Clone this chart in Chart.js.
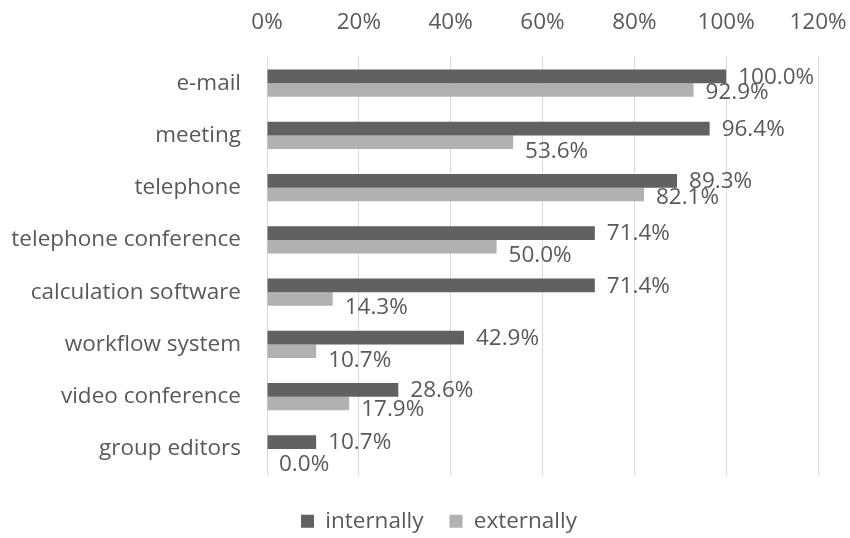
<!DOCTYPE html>
<html>
<head>
<meta charset="utf-8">
<script src="https://cdn.jsdelivr.net/npm/chart.js@4/dist/chart.umd.min.js"></script>
<style>
html,body{margin:0;padding:0;background:#fff;}
#wrap{width:850px;height:538px;position:relative;}
</style>
</head>
<body>
<div id="wrap"><canvas id="c" width="850" height="538"></canvas></div>
<script>
const categories = ["e-mail","meeting","telephone","telephone conference","calculation software","workflow system","video conference","group editors"];
const internally = [1.000,0.964,0.893,0.714,0.714,0.429,0.286,0.107];
const externally = [0.929,0.536,0.821,0.500,0.143,0.107,0.179,0.000];
const seriesNames = ["internally","externally"];
const xTicks = [0,0.2,0.4,0.6,0.8,1.0,1.2];

const TEXT = '#595959';
const FONT = '"Open Sans", sans-serif';
const FS = 22.5;

const labelPlugin = {
  id: 'barLabels',
  afterDatasetsDraw(chart) {
    const ctx = chart.ctx;
    ctx.save();
    ctx.font = FS + 'px ' + FONT;
    ctx.fillStyle = TEXT;
    ctx.textAlign = 'left';
    ctx.textBaseline = 'middle';
    const m0 = chart.getDatasetMeta(0), m1 = chart.getDatasetMeta(1);
    m0.data.forEach((bar, i) => {
      const v = chart.data.datasets[0].data[i];
      ctx.fillText((v*100).toFixed(1) + '%', bar.x + 12, bar.y + 1);
    });
    m1.data.forEach((bar, i) => {
      const v = chart.data.datasets[1].data[i];
      const t = (v*100).toFixed(1) + '%';
      const other = m0.data[i];
      const w = ctx.measureText(t).width;
      const overlap = Math.max(0, (bar.x + 12 + w) - (other.x + 12));
      const dy = Math.max(2, 9 - 0.2 * overlap);
      ctx.fillText(t, bar.x + 12, bar.y + dy);
    });
    ctx.restore();
  }
};

const chart = new Chart(document.getElementById('c'), {
  type: 'bar',
  data: {
    labels: categories,
    datasets: [
      { label: seriesNames[0], data: internally, backgroundColor: '#616163', borderWidth: 0 },
      { label: seriesNames[1], data: externally, backgroundColor: '#b1b1b3', borderWidth: 0 }
    ]
  },
  options: {
    indexAxis: 'y',
    responsive: false,
    animation: false,
    devicePixelRatio: 1,
    layout: { padding: { top: 0, right: 0, left: 10, bottom: 0 } },
    datasets: { bar: { categoryPercentage: 0.52, barPercentage: 1.0 } },
    scales: {
      x: {
        position: 'top',
        min: 0, max: 1.2,
        afterBuildTicks(axis) { axis.ticks = xTicks.map(v => ({ value: v })); },
        afterFit(scale) { scale.height = 57; scale.paddingLeft = 0; scale.paddingRight = 32; },
        ticks: {
          color: TEXT,
          font: { family: FONT, size: FS },
          padding: 20.5,
          maxRotation: 0,
          callback: v => Math.round(v*100) + '%'
        },
        grid: { color: '#d9d9d9', lineWidth: 1, drawTicks: false },
        border: { display: false }
      },
      y: {
        afterFit(scale) { scale.width = 257; scale.paddingTop = 0; scale.paddingBottom = 0; },
        ticks: {
          color: TEXT,
          font: { family: FONT, size: FS },
          padding: 26
        },
        grid: { display: false, drawTicks: false },
        border: { display: false }
      }
    },
    plugins: {
      legend: {
        position: 'bottom',
        labels: {
          color: TEXT,
          font: { family: FONT, size: FS },
          boxWidth: 13, boxHeight: 13,
          padding: 26
        }
      },
      tooltip: { enabled: false }
    }
  },
  plugins: [labelPlugin]
});

const lg = chart.legend;
const origFit = lg.fit.bind(lg);
lg.fit = function () { origFit(); this.height = 63; };
const origDraw = lg.draw.bind(lg);
lg.draw = function () {
  const ctx = this.ctx;
  ctx.save();
  ctx.translate(9, 9);
  origDraw();
  ctx.restore();
};
chart.update();
</script>
</body>
</html>
